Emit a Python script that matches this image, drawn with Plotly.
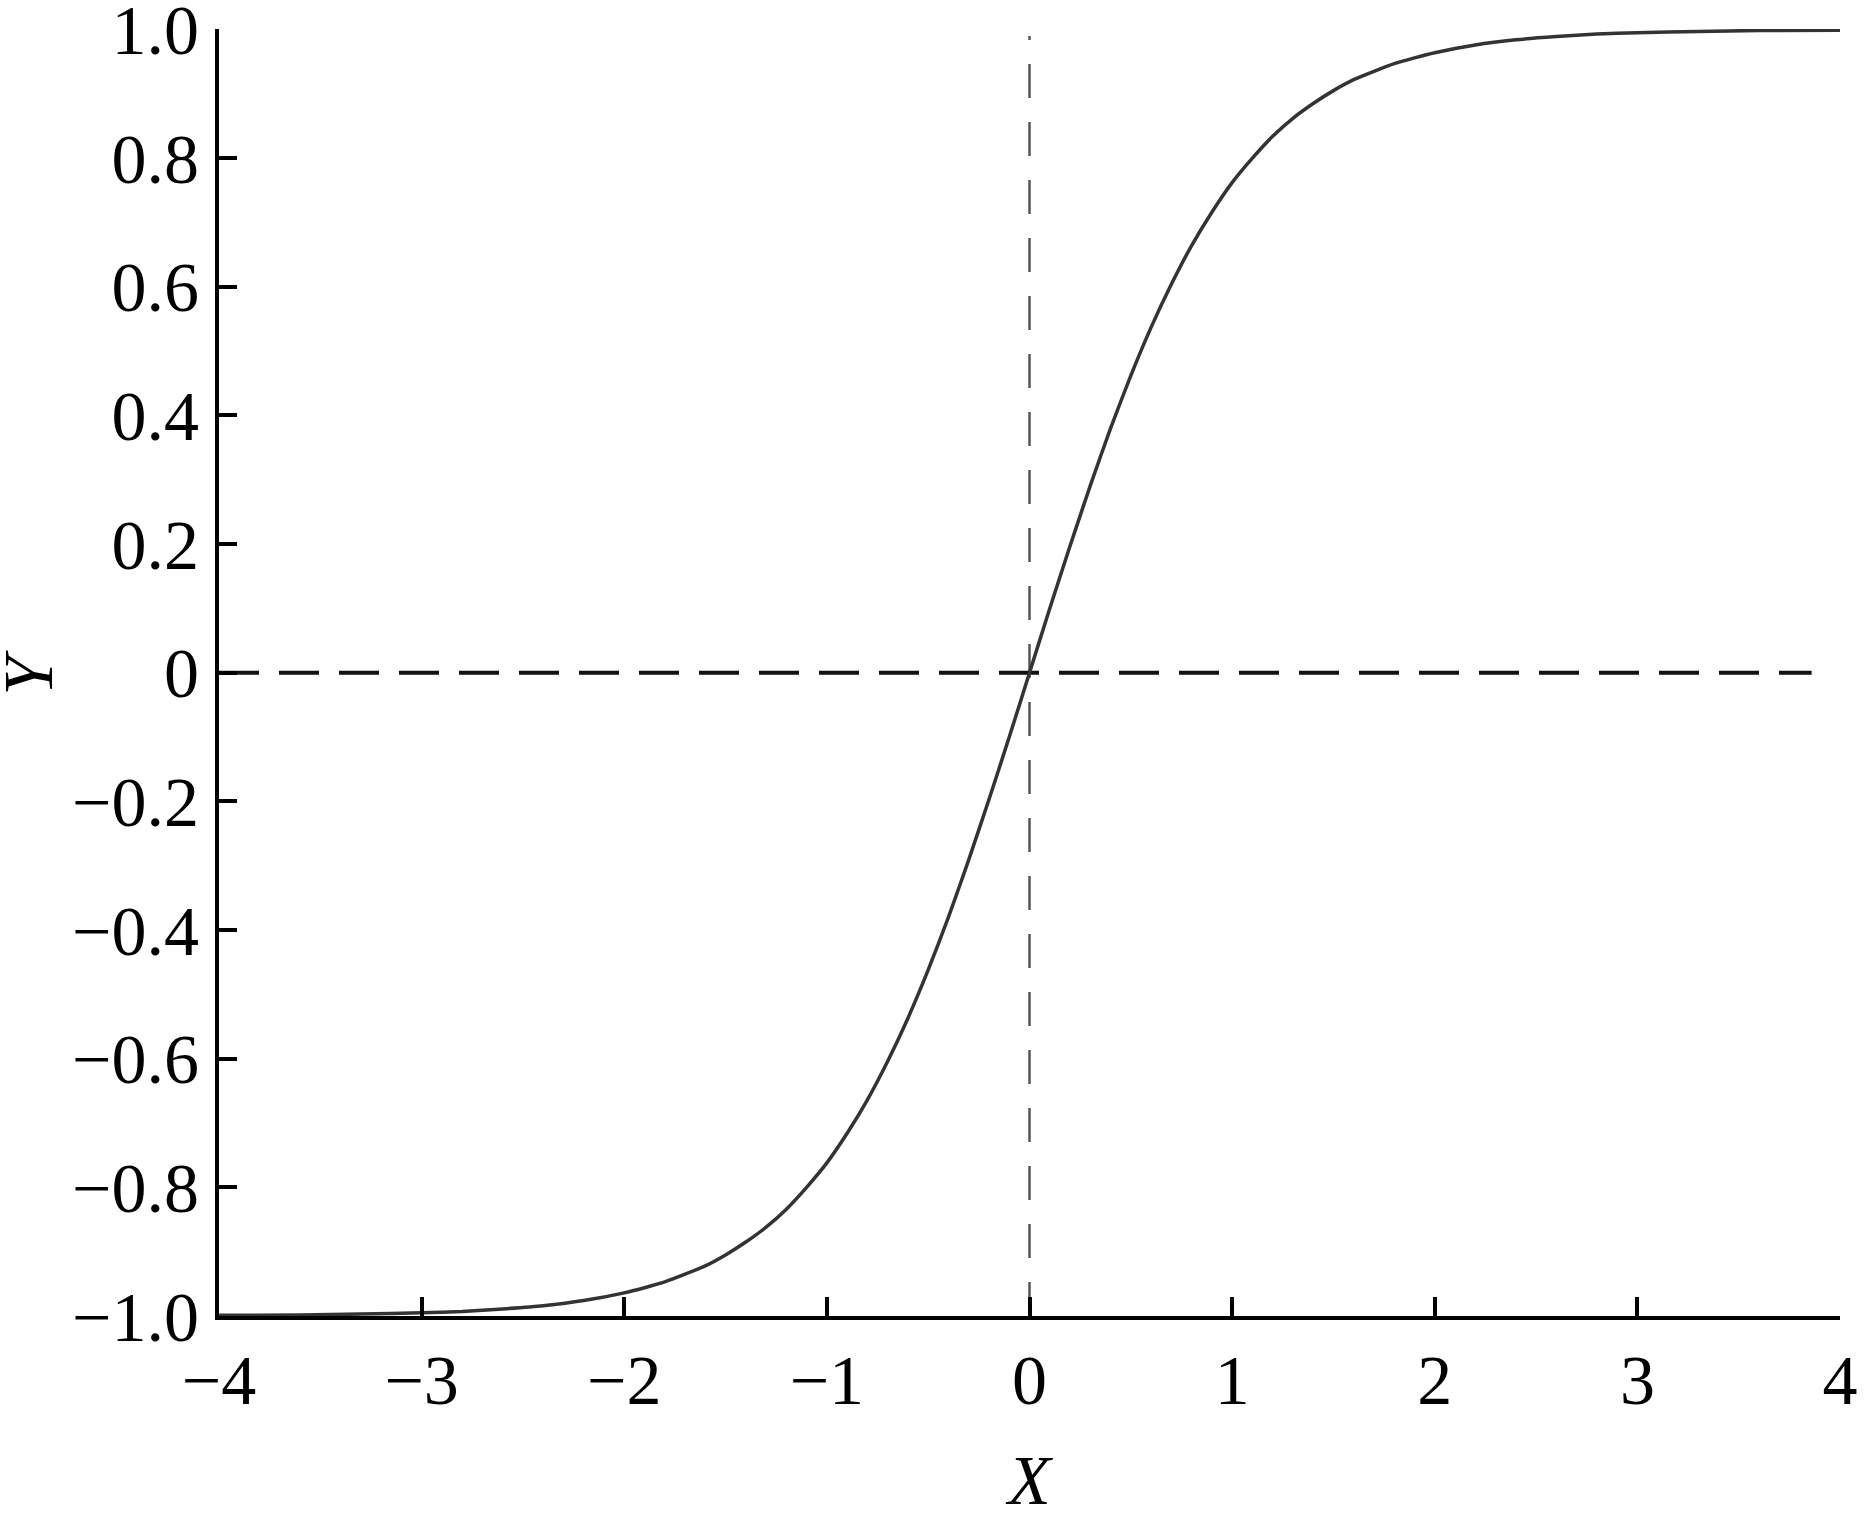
import plotly.graph_objects as go

# Curve values
curve_x = [-4.0, -3.6, -3.3, -3.0, -2.8, -2.6, -2.4, -2.2, -2.0, -1.9, -1.8, -1.7, -1.6,
           -1.5, -1.4, -1.3, -1.2, -1.1, -1.0, -0.9, -0.8, -0.7, -0.6, -0.5, -0.4, -0.3,
           -0.2, -0.1, 0.0, 0.1, 0.2, 0.3, 0.4, 0.5, 0.6, 0.7, 0.8, 0.9, 1.0, 1.1, 1.2,
           1.3, 1.4, 1.5, 1.6, 1.7, 1.8, 1.9, 2.0, 2.2, 2.4, 2.6, 2.8, 3.0, 3.3, 3.6, 4.0]
curve_y = [-0.999, -0.9985, -0.997, -0.995, -0.993, -0.989, -0.984, -0.976, -0.964, -0.956,
           -0.947, -0.935, -0.922, -0.905, -0.885, -0.862, -0.834, -0.800, -0.762, -0.716,
           -0.664, -0.604, -0.537, -0.462, -0.380, -0.291, -0.197, -0.100, 0.0, 0.100,
           0.197, 0.291, 0.380, 0.462, 0.537, 0.604, 0.664, 0.716, 0.762, 0.800, 0.834,
           0.862, 0.885, 0.905, 0.922, 0.935, 0.947, 0.956, 0.964, 0.976, 0.984, 0.989,
           0.993, 0.995, 0.997, 0.9985, 0.999]

# Reference (dashed) lines
hline_x = [-4.0, 3.86]
hline_y = [0.0, 0.0]
vline_x = [0.0, 0.0]
vline_y = [-1.0, 0.99]

x_ticks = [-4, -3, -2, -1, 0, 1, 2, 3, 4]
x_tick_text = ["\u22124", "\u22123", "\u22122", "\u22121", "0", "1", "2", "3", "4"]
y_ticks = [-1.0, -0.8, -0.6, -0.4, -0.2, 0.0, 0.2, 0.4, 0.6, 0.8, 1.0]
y_tick_text = ["\u22121.0", "\u22120.8", "\u22120.6", "\u22120.4", "\u22120.2", "0",
               "0.2", "0.4", "0.6", "0.8", "1.0"]

FONT = "Liberation Serif, Times New Roman, serif"

fig = go.Figure()
fig.add_trace(go.Scatter(x=vline_x, y=vline_y, mode="lines",
                         line=dict(color="#555555", width=2.5, dash="34px,24px"),
                         hoverinfo="skip", cliponaxis=False))
fig.add_trace(go.Scatter(x=hline_x, y=hline_y, mode="lines",
                         line=dict(color="#111111", width=4, dash="40px,20px"),
                         hoverinfo="skip", cliponaxis=False))
fig.add_trace(go.Scatter(x=curve_x, y=curve_y, mode="lines",
                         line=dict(color="#333333", width=3.5, shape="spline", smoothing=0.5),
                         cliponaxis=False))

fig.update_layout(
    template="none",
    width=1866, height=1516,
    margin=dict(l=219, r=26, t=29, b=200),
    paper_bgcolor="white", plot_bgcolor="white",
    showlegend=False,
    font=dict(family=FONT, size=70, color="black"),
    annotations=[
        dict(text="<i>Y</i>", x=0, xref="paper", y=0.5, yref="paper", showarrow=False,
             textangle=-90, xanchor="center", yanchor="middle", xshift=-191,
             font=dict(size=70)),
        dict(text="<i>X</i>", x=0.5, xref="paper", y=0, yref="paper", showarrow=False,
             yanchor="top", yshift=-124, font=dict(size=70)),
    ],
)
fig.update_xaxes(range=[-4, 4], tickvals=x_ticks, ticktext=x_tick_text, automargin=False,
                 showgrid=False, zeroline=False, showline=True, linecolor="black",
                 linewidth=4, ticks="inside", ticklen=19, tickwidth=4, tickcolor="black",
                 ticklabelstandoff=0, ticklabeloverflow="allow",
                 tickfont=dict(family=FONT, size=70))
fig.update_yaxes(range=[-1, 1.0008], tickvals=y_ticks, ticktext=y_tick_text, automargin=False,
                 showgrid=False, zeroline=False, showline=True, linecolor="black",
                 linewidth=4, ticks="inside", ticklen=18, tickwidth=4, tickcolor="black",
                 ticklabelstandoff=2, ticklabeloverflow="allow",
                 tickfont=dict(family=FONT, size=70))

fig.write_html("out.html", config={"displayModeBar": False},
               post_script="document.body.style.margin='0';")
